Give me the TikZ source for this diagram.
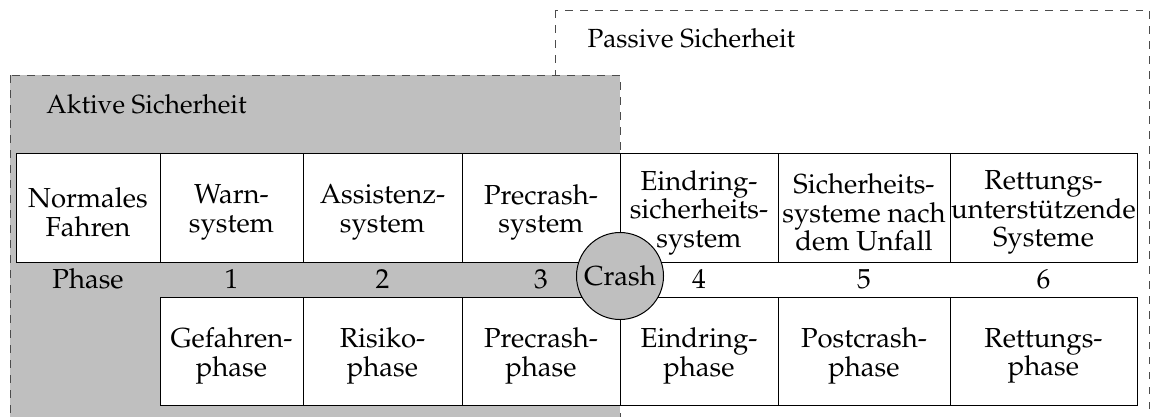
\documentclass[tikz,border=0pt]{standalone}
\usepackage[T1]{fontenc}
\usepackage{mathpazo}
\tikzset{
  every node/.append style={font=\fontsize{11}{11.4}\selectfont},
  zone/.style={draw=black!70, dashed, line width=0.4pt},
  cell/.style={draw, fill=white, line width=0.4pt, inner sep=0pt,
               minimum width=#1*0.4pt},
  toprow/.style={cell=#1, minimum height=109*0.4pt},
  botrow/.style={cell=#1, minimum height=108*0.4pt},
  celltext/.style={inner sep=0pt, align=center, yshift=-2pt},
  phaselbl/.style={inner sep=0pt, anchor=base},
  zonelbl/.style={inner sep=0pt, anchor=base west, font=\fontsize{10.5}{12}\selectfont},
  crash/.style={circle, draw, fill=gray!50, inner sep=0pt, minimum size=87*0.4pt}
}
\begin{document}
\begin{tikzpicture}[x=0.4pt, y=-0.4pt]
\useasboundingbox (0,0) rectangle (1151,416);

% safety zones
\draw[zone] (555,10) rectangle (1149,430);
\node[zonelbl] (passive) at (587,47) {Passive Sicherheit};
\draw[zone, fill=gray!50] (10,75) rectangle (620,430);
\node[zonelbl] (active) at (46,113) {Aktive Sicherheit};

% systems
\node[toprow=144] (s0) at (88,207.5)    {};
\node[toprow=143] (s1) at (231.5,207.5) {};
\node[toprow=159] (s2) at (382.5,207.5) {};
\node[toprow=158] (s3) at (541,207.5)   {};
\node[toprow=158] (s4) at (699,207.5)   {};
\node[toprow=172] (s5) at (864,207.5)   {};
\node[toprow=187] (s6) at (1043.5,207.5) {};
\node[celltext] (ts0) at (s0.center) {Normales\\Fahren};
\node[celltext] (ts1) at (s1.center) {Warn-\\system};
\node[celltext] (ts2) at (s2.center) {Assistenz-\\system};
\node[celltext] (ts3) at (s3.center) {Precrash-\\system};
\node[celltext] (ts4) at (s4.center) {Eindring-\\sicherheits-\\system};
\node[celltext] (ts5) at (s5.center) {Sicherheits-\\systeme nach\\dem Unfall};
\node[celltext] (ts6) at (s6.center) {Rettungs-\\unterst\"utzende\\Systeme};

% phase numbers
\node[phaselbl] (p0) at (88,288.5)    {Phase};
\node[phaselbl] (p1) at (231.5,288.5) {1};
\node[phaselbl] (p2) at (382.5,288.5) {2};
\node[phaselbl] (p3) at (541,288.5)   {3};
\node[phaselbl] (p4) at (699,288.5)   {4};
\node[phaselbl] (p5) at (864,288.5)   {5};
\node[phaselbl] (p6) at (1043.5,288.5) {6};

% phases
\node[botrow=143] (f1) at (231.5,351) {};
\node[botrow=159] (f2) at (382.5,351) {};
\node[botrow=158] (f3) at (541,351)   {};
\node[botrow=158] (f4) at (699,351)   {};
\node[botrow=172] (f5) at (864,351)   {};
\node[botrow=187] (f6) at (1043.5,351) {};
\node[celltext] (tf1) at (f1.center) {Gefahren-\\phase};
\node[celltext] (tf2) at (f2.center) {Risiko-\\phase};
\node[celltext] (tf3) at (f3.center) {Precrash-\\phase};
\node[celltext] (tf4) at (f4.center) {Eindring-\\phase};
\node[celltext] (tf5) at (f5.center) {Postcrash-\\phase};
\node[celltext] (tf6) at (f6.center) {Rettungs-\\phase};

% the crash moment
\node[crash] (crash) at (620,276) {Crash};
\end{tikzpicture}
\end{document}
